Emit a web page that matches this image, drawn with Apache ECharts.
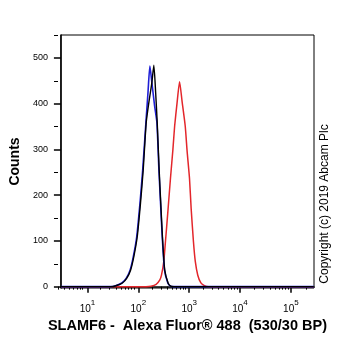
<!DOCTYPE html>
<html>
<head>
<meta charset="utf-8">
<script src="https://cdn.jsdelivr.net/npm/echarts@6/dist/echarts.min.js"></script>
<style>
html, body { margin: 0; padding: 0; background: #fff; }
#main { width: 362px; height: 351px; }
</style>
</head>
<body>
<div id="main"></div>
<script>
// fluorescence positions as log10 values, counts
var blueLog = [0.48, 1.45, 1.55, 1.676, 1.76, 1.837, 1.90, 1.968, 2.032, 2.085, 2.149, 2.19, 2.227, 2.266, 2.32, 2.365, 2.405, 2.437, 2.47, 2.515, 2.58, 2.63, 2.70, 5.45];
var blueCounts = [0, 0, 2, 8, 18, 36, 65, 109, 182, 254, 359, 425, 482, 446, 395, 359, 254, 182, 109, 36, 8, 1, 0, 0];

var blackLog = [0.48, 1.46, 1.56, 1.686, 1.77, 1.847, 1.91, 1.978, 2.042, 2.095, 2.155, 2.21, 2.266, 2.305, 2.34, 2.371, 2.41, 2.441, 2.474, 2.519, 2.585, 2.635, 2.70, 5.45];
var blackCounts = [0, 0, 2, 8, 18, 36, 65, 109, 182, 254, 359, 405, 446, 484, 425, 359, 254, 182, 109, 36, 8, 1, 0, 0];

var redLog = [0.48, 2.15, 2.25, 2.35, 2.42, 2.455, 2.50, 2.533, 2.585, 2.632, 2.68, 2.714, 2.76, 2.811, 2.86, 2.922, 2.96, 3.006, 3.039, 3.084, 3.12, 3.169, 3.23, 3.30, 3.38, 5.45];
var redCounts = [0, 0, 1, 5, 14, 25, 55, 98, 170, 237, 300, 351, 400, 448, 405, 351, 295, 237, 170, 98, 55, 25, 8, 2, 0, 0];

var xMajor = [10, 100, 1000, 10000, 100000];
var xMinor = [3, 4, 5, 6, 7, 8, 9, 20, 30, 40, 50, 60, 70, 80, 90,
  200, 300, 400, 500, 600, 700, 800, 900,
  2000, 3000, 4000, 5000, 6000, 7000, 8000, 9000,
  20000, 30000, 40000, 50000, 60000, 70000, 80000, 90000, 200000];
var yMajor = [0, 100, 200, 300, 400, 500];
var yMinor = [50, 150, 250, 350, 450, 550];

var font = "'Liberation Sans', Arial, sans-serif";

function pairs(logs, counts) {
  return logs.map(function (l, i) {
    return [Math.pow(10, l), counts[i]];
  });
}

function histo(name, logs, counts, color, width) {
  return {
    name: name,
    type: "line",
    data: pairs(logs, counts),
    showSymbol: false,
    smooth: 0.2,
    lineStyle: { color: color, width: width },
    silent: true
  };
}

var gridPos = { left: 58, right: 48, top: 35, bottom: 63 };

var option = {
  backgroundColor: "#fff",
  animation: false,
  grid: [
    Object.assign({ show: true, borderColor: "#000", borderWidth: 1 }, gridPos),
    Object.assign({ show: false }, gridPos)
  ],
  xAxis: [
    {
      type: "log",
      gridIndex: 0,
      min: 3,
      max: 285000,
      axisLine: { show: true, lineStyle: { color: "#000", width: 1.5 } },
      axisTick: { show: true, length: 6, customValues: xMajor, lineStyle: { color: "#000", width: 1.5 } },
      axisLabel: {
        customValues: xMajor,
        margin: 11,
        formatter: function (v) {
          return "{b|10}{s|" + Math.round(Math.log10(v)) + "}";
        },
        rich: {
          b: { fontSize: 10, fontFamily: font, color: "#000", lineHeight: 20 },
          s: { fontSize: 8, fontFamily: font, color: "#000", lineHeight: 8, verticalAlign: "top" }
        }
      },
      splitLine: { show: false },
      name: "SLAMF6 -  Alexa Fluor\u00ae 488  (530/30 BP)",
      nameLocation: "middle",
      nameGap: 27,
      nameTextStyle: { fontFamily: font, fontWeight: "bold", fontSize: 14.5, color: "#000" }
    },
    {
      type: "log",
      gridIndex: 1,
      min: 3,
      max: 285000,
      axisLine: { show: false },
      axisTick: { show: true, length: 3, customValues: xMinor, lineStyle: { color: "#000", width: 1 } },
      axisLabel: { show: false },
      splitLine: { show: false }
    }
  ],
  yAxis: [
    {
      type: "value",
      gridIndex: 0,
      min: -3,
      max: 550,
      axisLine: { show: true, lineStyle: { color: "#000", width: 1.5 } },
      axisTick: { show: true, length: 7, customValues: yMajor, lineStyle: { color: "#000", width: 1.5 } },
      axisLabel: { customValues: yMajor, margin: 13, fontSize: 9, fontFamily: font, color: "#000" },
      splitLine: { show: false },
      name: "Counts",
      nameLocation: "middle",
      nameRotate: 90,
      nameGap: 36,
      nameTextStyle: { fontFamily: font, fontWeight: "bold", fontSize: 14, color: "#000" }
    },
    {
      type: "value",
      gridIndex: 1,
      min: -3,
      max: 550,
      axisLine: { show: false },
      axisTick: { show: true, length: 4, customValues: yMinor, lineStyle: { color: "#000", width: 1 } },
      axisLabel: { show: false },
      splitLine: { show: false }
    }
  ],
  graphic: [
    {
      type: "text",
      x: 325,
      y: 204,
      rotation: Math.PI / 2,
      style: {
        text: "Copyright (c) 2019 Abcam Plc",
        fontFamily: font,
        fontSize: 12,
        fill: "#000",
        align: "center",
        verticalAlign: "middle"
      }
    }
  ],
  series: [
    histo("red", redLog, redCounts, "#e3262b", 1.5),
    histo("blue", blueLog, blueCounts, "#1f1fd6", 1.6),
    histo("black", blackLog, blackCounts, "#000", 1.4)
  ]
};

var chart = echarts.init(document.getElementById("main"));
chart.setOption(option);
</script>
</body>
</html>
